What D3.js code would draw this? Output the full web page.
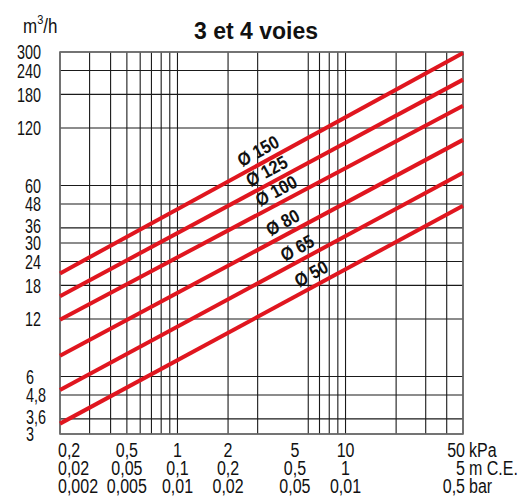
<!DOCTYPE html>
<html>
<head>
<meta charset="utf-8">
<script src="https://cdn.jsdelivr.net/npm/d3@7"></script>
<style>
  html, body { margin: 0; padding: 0; background: #fff; }
  svg { display: block; font-family: "Liberation Sans", Arial, Helvetica, sans-serif; }
</style>
</head>
<body>
<svg id="chart" width="525" height="497"></svg>
<script>
// ---------- data ----------
const seriesNames = ["Ø 150", "Ø 125", "Ø 100", "Ø 80", "Ø 65", "Ø 50"];
const dpStart = 0.2;            // kPa
const dpEnd = 50;               // kPa
const qAtStart = [20.8, 15.8, 11.9, 7.7, 5.1, 3.4];   // m3/h at 0.2 kPa
const qAtEnd   = [296, 215, 157, 104, 70, 47];        // m3/h at 50 kPa
const labelAtDp = [3.28, 3.68, 4.19, 4.58, 5.59, 6.77]; // where each Ø label sits

const xGrid = [0.2, 0.3, 0.4, 0.5, 0.6, 0.7, 0.8, 0.9, 1, 2, 3, 6, 7, 8, 9, 10, 20, 30, 40, 50];
const yGrid = [3, 3.6, 4.8, 6, 12, 18, 24, 30, 36, 48, 60, 120, 180, 240, 300];
const yTickLabels = ["3", "3,6", "4,8", "6", "12", "18", "24", "30", "36", "48", "60", "120", "180", "240", "300"];

const xTicks = [0.2, 0.5, 1, 2, 5, 10, 50];
const kPaLabels = ["0,2", "0,5", "1", "2", "5", "10", "50"];
const mceLabels = ["0,02", "0,05", "0,1", "0,2", "0,5", "1", "5"];
const barLabels = ["0,002", "0,005", "0,01", "0,02", "0,05", "0,01", "0,5"];
const unitLabels = ["kPa", "m C.E.", "bar"];

const titleText = "3 et 4 voies";

// ---------- drawing ----------
const svg = d3.select("#chart");
const x = d3.scaleLog().domain([0.2, 50]).range([60, 463]);
const y = d3.scaleLog().domain([3, 300]).range([434, 52]);

// grid
const grid = svg.append("g");
grid.selectAll("line.v").data(xGrid).join("line")
  .attr("x1", d => x(d)).attr("x2", d => x(d))
  .attr("y1", y(300)).attr("y2", y(3))
  .attr("stroke", "#1a1a1a").attr("stroke-width", 1.1);
grid.selectAll("line.h").data(yGrid).join("line")
  .attr("x1", x(0.2)).attr("x2", x(50))
  .attr("y1", d => y(d)).attr("y2", d => y(d))
  .attr("stroke", "#1a1a1a").attr("stroke-width", 1.1);
svg.append("rect")
  .attr("x", x(0.2)).attr("y", y(300))
  .attr("width", x(50) - x(0.2)).attr("height", y(3) - y(300))
  .attr("fill", "none").attr("stroke", "#6e6e6e").attr("stroke-width", 1.6);

// series lines
const series = seriesNames.map((name, i) => ({
  name,
  pts: [[dpStart, qAtStart[i]], [dpEnd, qAtEnd[i]]],
  labelDp: labelAtDp[i]
}));
const line = d3.line().x(d => x(d[0])).y(d => y(d[1]));
svg.append("g").selectAll("path").data(series).join("path")
  .attr("d", d => line(d.pts))
  .attr("fill", "none")
  .attr("stroke", "#e0161f")
  .attr("stroke-width", 4);

// series labels along lines
function qAt(s, dp) {
  const [p0, p1] = s.pts;
  const t = (Math.log(dp) - Math.log(p0[0])) / (Math.log(p1[0]) - Math.log(p0[0]));
  return Math.exp(Math.log(p0[1]) + t * (Math.log(p1[1]) - Math.log(p0[1])));
}
svg.append("g").selectAll("text").data(series).join("text")
  .attr("transform", d => {
    const x0 = x(d.pts[0][0]), y0 = y(d.pts[0][1]);
    const x1 = x(d.pts[1][0]), y1 = y(d.pts[1][1]);
    const ang = Math.atan2(y1 - y0, x1 - x0) * 180 / Math.PI;
    return `translate(${x(d.labelDp)},${y(qAt(d, d.labelDp))}) rotate(${ang}) scale(0.88,1)`;
  })
  .attr("y", -6)
  .attr("text-anchor", "middle")
  .attr("font-size", 18.5)
  .attr("font-weight", "bold")
  .attr("fill", "#111")
  .text(d => d.name);

// y tick labels with simple de-overlap
const yLab = yGrid.map((v, i) => ({ v, t: yTickLabels[i], pos: y(v) }));
for (let i = 1; i < yLab.length; i++) {
  yLab[i].pos = Math.min(yLab[i].pos, yLab[i - 1].pos - 17.5);
}
svg.append("g").selectAll("text").data(yLab).join("text")
  .attr("transform", d => `translate(${d.v >= 12 ? 41 : 26},${d.pos}) scale(0.72,1)`)
  .attr("dy", "0.36em")
  .attr("text-anchor", d => d.v >= 12 ? "end" : "start")
  .attr("font-size", 20)
  .attr("fill", "#111")
  .text(d => d.t);

// x tick labels (three rows)
const rows = [kPaLabels, mceLabels, barLabels];
const rowBase = [456.5, 474.5, 492.5];
const xg = svg.append("g");
rows.forEach((labels, r) => {
  xg.selectAll(null).data(xTicks).join("text")
    .attr("transform", (d, i) => {
      let px = x(d);
      if (i === 0) px = x(d) - 2;
      if (i === xTicks.length - 1) px = x(d) + 2;
      return `translate(${px},${rowBase[r]}) scale(0.8,1)`;
    })
    .attr("text-anchor", (d, i) => i === 0 ? "start" : (i === xTicks.length - 1 ? "end" : "middle"))
    .attr("font-size", 20)
    .attr("fill", "#111")
    .text((d, i) => labels[i]);
  xg.append("text")
    .attr("transform", `translate(${x(50) + 6},${rowBase[r]}) scale(0.8,1)`)
    .attr("text-anchor", "start")
    .attr("font-size", 20)
    .attr("fill", "#111")
    .text(unitLabels[r]);
});

// title
svg.append("text")
  .attr("x", 256).attr("y", 38.5)
  .attr("text-anchor", "middle")
  .attr("font-size", 23)
  .attr("font-weight", "bold")
  .attr("fill", "#111")
  .text(titleText);

// y unit
const yu = svg.append("text")
  .attr("transform", "translate(23,33) scale(0.85,1)")
  .attr("font-size", 20)
  .attr("fill", "#111");
yu.append("tspan").text("m");
yu.append("tspan").attr("dy", -9).attr("font-size", 13).text("3");
yu.append("tspan").attr("dy", 9).text("/h");
</script>
</body>
</html>
